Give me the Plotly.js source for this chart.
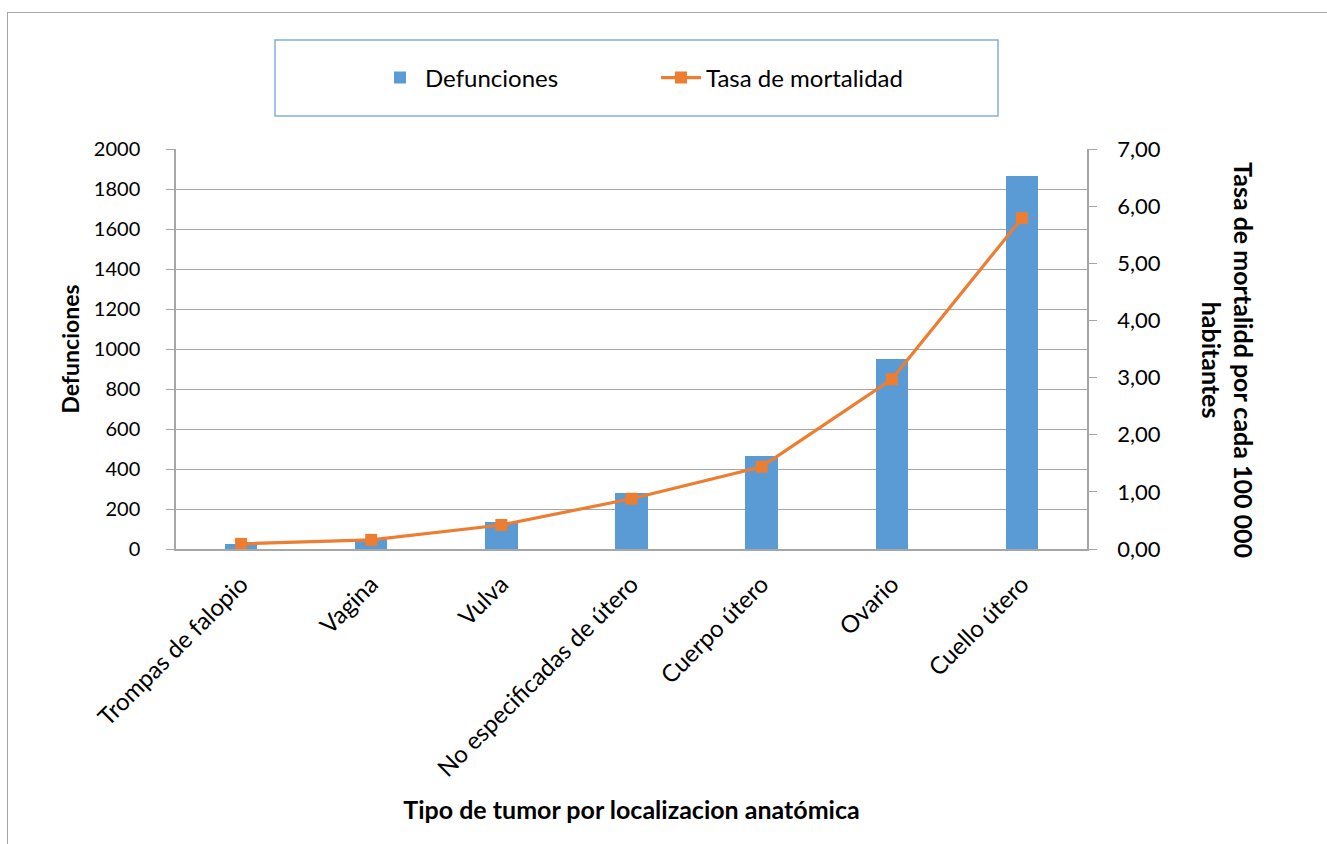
<!DOCTYPE html>
<html>
<head>
<meta charset="utf-8">
<script src="https://cdn.plot.ly/plotly-3.0.1.min.js"></script>
<style>
html,body{margin:0;padding:0;background:#fff;}
#chart{width:1327px;height:844px;position:relative;}
#frame{position:absolute;left:7px;top:12px;width:1330px;height:900px;border-left:1.5px solid #a6a6a6;border-top:1.5px solid #a6a6a6;pointer-events:none;z-index:5;}
</style>
</head>
<body>
<div id="frame"></div>
<div id="chart"></div>
<script>
const categories = ["Trompas de falopio", "Vagina", "Vulva", "No especificadas de útero", "Cuerpo útero", "Ovario", "Cuello útero"];
const defunciones = [25, 50, 135, 280, 465, 950, 1865];
const tasaMortalidad = [0.09, 0.16, 0.42, 0.88, 1.44, 2.97, 5.79];
const leftTicks = [0, 200, 400, 600, 800, 1000, 1200, 1400, 1600, 1800, 2000];
const rightTicks = [0, 1, 2, 3, 4, 5, 6, 7];

const FONT = "Lato, 'Open Sans', sans-serif";
const L = 176, R = 1087, T = 149, B = 549, W = 1327, H = 844;
const pw = R - L, ph = B - T;
const px = v => (v - L) / pw;
const py = v => (B - v) / ph;

const traces = [
  {
    type: "bar", name: "Defunciones", x: categories, y: defunciones,
    marker: {color: "#5b9bd5"}, width: 0.25, yaxis: "y"
  },
  {
    type: "scatter", mode: "lines+markers", name: "Tasa de mortalidad",
    x: categories, y: tasaMortalidad, yaxis: "y2",
    line: {color: "#ed7d31", width: 3.2},
    marker: {symbol: "square", size: 12, color: "#ed7d31"}
  }
];

const layout = {
  width: W, height: H,
  margin: {l: L, r: W - R, t: T, b: H - B, autoexpand: false},
  paper_bgcolor: "#fff", plot_bgcolor: "#fff",
  font: {family: FONT, size: 20, color: "#000"},
  separators: ", ",
  showlegend: true,
  bargap: 0,
  legend: {
    orientation: "h", x: px(375), xanchor: "left", y: py(78), yanchor: "middle",
    font: {family: FONT, size: 24, color: "#000"},
    bgcolor: "rgba(0,0,0,0)", borderwidth: 0,
    entrywidth: 226, entrywidthmode: "pixels", itemwidth: 40
  },
  xaxis: {
    type: "category", tickangle: -45, showgrid: false,
    showline: true, linecolor: "#a6a6a6", linewidth: 1.5,
    ticks: "", tickfont: {family: FONT, size: 24, color: "#000"},
    ticklabelstandoff: 10,
    automargin: false,
    title: {text: "<b>Tipo de tumor por localizacion anatómica</b>", standoff: 21,
      font: {family: FONT, size: 25, color: "#000"}}
  },
  yaxis: {
    range: [0, 2000], tickvals: leftTicks, ticktext: leftTicks.map(String),
    showgrid: true, gridcolor: "#a6a6a6", gridwidth: 1.2,
    showline: true, linecolor: "#a6a6a6", linewidth: 1.5,
    ticks: "outside", ticklen: 8, tickcolor: "#a6a6a6", tickwidth: 1.2,
    ticklabelstandoff: 22, zeroline: false, automargin: false,
    tickfont: {family: FONT, size: 20, color: "#000"},
    title: {text: "<b>Defunciones</b>", standoff: 8,
      font: {family: FONT, size: 23, color: "#000"}}
  },
  yaxis2: {
    overlaying: "y", side: "right", range: [0, 7], tickvals: rightTicks,
    tickformat: ".2f", showgrid: false, zeroline: false,
    showline: true, linecolor: "#a6a6a6", linewidth: 1.5,
    ticks: "outside", ticklen: 8, tickcolor: "#a6a6a6", tickwidth: 1.2,
    ticklabelstandoff: 16, automargin: false,
    tickfont: {family: FONT, size: 22, color: "#000"}
  },
  shapes: [
    {type: "rect", xref: "paper", yref: "paper",
     x0: px(275), x1: px(998), y0: py(116), y1: py(40),
     line: {color: "#7fb0de", width: 1.5}, fillcolor: "rgba(0,0,0,0)"}
  ],
  annotations: [
    {xref: "paper", yref: "paper", x: px(1228), y: py(360), xanchor: "center", yanchor: "middle",
     textangle: 90, showarrow: false, align: "center",
     text: "<b>Tasa de mortalidd por cada 100 000<br>habitantes</b>",
     font: {family: FONT, size: 25, color: "#000"}}
  ]
};

Plotly.newPlot("chart", traces, layout, {displayModeBar: false, responsive: false});
</script>
</body>
</html>
